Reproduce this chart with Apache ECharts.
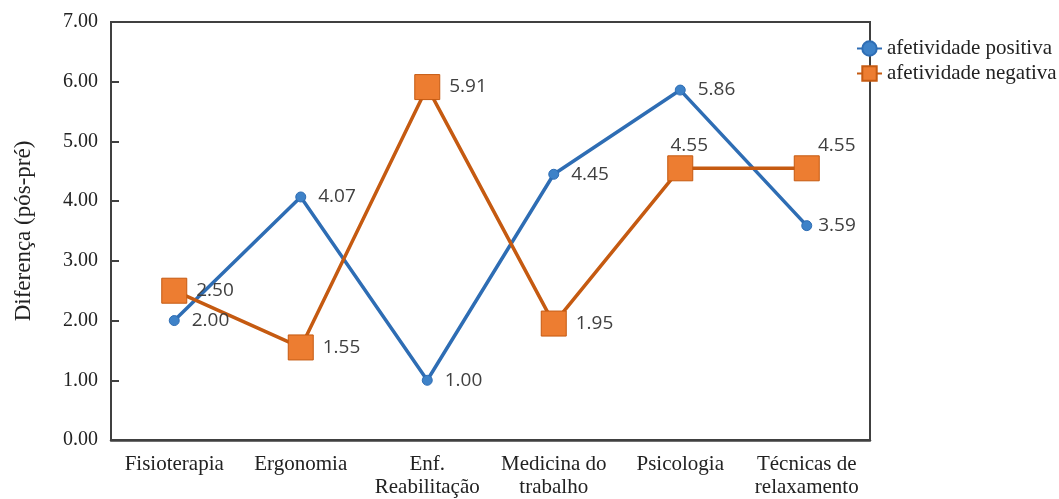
<!DOCTYPE html>
<html><head><meta charset="utf-8">
<script src="https://cdn.jsdelivr.net/npm/echarts@6/dist/echarts.min.js"></script>
<style>html,body{margin:0;padding:0;background:#fff}#c{width:1059px;height:499px}</style>
</head><body><div id="c"></div>
<script>
const categories = ['Fisioterapia', 'Ergonomia', 'Enf.\nReabilitação', 'Medicina do\ntrabalho', 'Psicologia', 'Técnicas de\nrelaxamento'];
const positiva = [2.00, 4.07, 1.00, 4.45, 5.86, 3.59];
const negativa = [2.50, 1.55, 5.91, 1.95, 4.55, 4.55];
const seriesNames = ['afetividade positiva', 'afetividade negativa'];
const yTicks = [0, 1, 2, 3, 4, 5, 6, 7];

const serif = 'Liberation Serif';
const labelFont = 'Open Sans';

const posData = positiva.map((v, i) => {
  const d = { value: v };
  if (i === 5) d.label = { distance: 6 };
  return d;
});
const negData = negativa.map((v, i) => {
  const d = { value: v };
  if (i === 4) d.label = { position: 'top', offset: [9, 0], distance: 0 };
  if (i === 5) d.label = { position: 'top', offset: [30, 0], distance: 0 };
  return d;
});

const chart = echarts.init(document.getElementById('c'));
chart.setOption({
  animation: false,
  backgroundColor: '#fff',
  grid: { left: 111, right: 189, top: 22, bottom: 57, show: true, borderColor: '#404040', borderWidth: 2, backgroundColor: 'transparent' },
  legend: {
    left: 851, top: 33, orient: 'vertical', itemGap: 4, itemWidth: 25, itemHeight: 18,
    textStyle: { fontFamily: serif, fontSize: 21, color: '#222' },
    data: seriesNames
  },
  xAxis: {
    type: 'category', data: categories, boundaryGap: true,
    axisLine: { lineStyle: { color: '#404040', width: 2.5 } },
    axisTick: { show: false },
    axisLabel: { fontFamily: serif, fontSize: 21, color: '#222', margin: 13, lineHeight: 23, interval: 0 },
    splitLine: { show: false }
  },
  yAxis: {
    type: 'value', min: yTicks[0], max: yTicks[yTicks.length - 1], interval: 1,
    name: 'Diferença (pós-pré)', nameLocation: 'middle', nameGap: 76, nameRotate: 90,
    nameTextStyle: { fontFamily: serif, fontSize: 23, color: '#222' },
    axisLine: { show: true, lineStyle: { color: '#404040', width: 2 } },
    axisTick: { show: true, inside: true, length: 8, lineStyle: { color: '#404040', width: 2 } },
    axisLabel: { fontFamily: serif, fontSize: 20, color: '#222', margin: 13, formatter: v => v.toFixed(2) },
    splitLine: { show: false }
  },
  series: [
    {
      name: seriesNames[0], type: 'line', data: posData,
      symbol: 'circle', symbolSize: 10,
      lineStyle: { color: '#2E6DB4', width: 3.5 },
      itemStyle: { color: '#3E82C8', borderColor: '#2E6DB4', borderWidth: 1 },
      label: { show: true, position: 'right', distance: 12, fontFamily: labelFont, fontSize: 19, color: '#404040', formatter: p => p.value.toFixed(2) }
    },
    {
      name: seriesNames[1], type: 'line', data: negData,
      symbol: 'rect', symbolSize: 25,
      lineStyle: { color: '#C55A11', width: 3.5 },
      itemStyle: { color: '#ED7D31', borderColor: '#C55A11', borderWidth: 1 },
      label: { show: true, position: 'right', distance: 9, fontFamily: labelFont, fontSize: 19, color: '#404040', formatter: p => p.value.toFixed(2) }
    }
  ]
});
</script></body></html>
